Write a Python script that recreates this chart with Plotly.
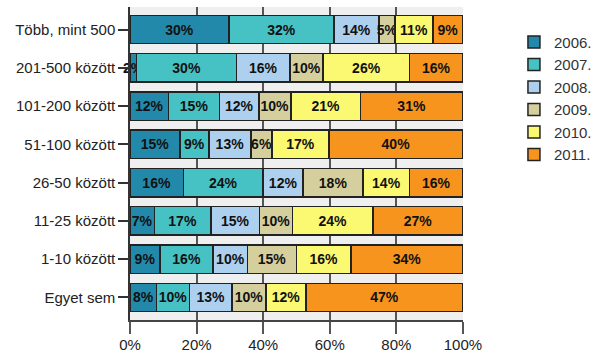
import plotly.graph_objects as go

categories = ["Több, mint 500", "201-500 között", "101-200 között", "51-100 között",
              "26-50 között", "11-25 között", "1-10 között", "Egyet sem"]
years = ["2006.", "2007.", "2008.", "2009.", "2010.", "2011."]

v2006 = [29.7, 2.0, 11.6, 15.0, 16.0, 7.3, 9.0, 8.0]
v2007 = [31.6, 30.0, 15.3, 8.7, 24.0, 17.0, 16.0, 9.8]
v2008 = [13.5, 16.0, 11.8, 12.6, 12.0, 14.6, 10.3, 12.9]
v2009 = [4.8, 10.0, 9.6, 6.4, 18.0, 9.9, 14.7, 10.1]
v2010 = [11.4, 26.0, 21.0, 17.0, 14.0, 24.2, 16.4, 12.1]
v2011 = [9.0, 16.0, 30.6, 40.3, 16.0, 27.0, 33.6, 47.1]
series = [v2006, v2007, v2008, v2009, v2010, v2011]

colors = ["#2389AA", "#46C1C4", "#AED0EF", "#D5CF9D", "#FBF871", "#F7941E"]

fig = go.Figure()
for name, vals, col in zip(years, series, colors):
    fig.add_trace(go.Bar(
        y=categories, x=vals, name=name, orientation="h",
        marker=dict(color=col, line=dict(color="#222222", width=1.5)),
        text=[f"{round(v):d}%" for v in vals],
        textposition="inside", insidetextanchor="middle", textangle=0,
        textfont=dict(family="Liberation Sans, Arial, sans-serif", size=14,
                      color="#111111", weight="bold"),
        constraintext="none", cliponaxis=False,
    ))

fig.update_layout(
    barmode="stack", bargap=0.26,
    width=597, height=364,
    margin=dict(l=130, r=134, t=7, b=44, autoexpand=False),
    paper_bgcolor="white", plot_bgcolor="#EFEFEF",
    font=dict(family="Liberation Sans, Arial, sans-serif", size=15, color="#222222"),
    uniformtext=dict(minsize=14, mode="show"),
    showlegend=True,
    legend=dict(x=1.153, y=0.94, xanchor="left", yanchor="top",
                font=dict(size=15, color="#333333"), traceorder="normal",
                itemwidth=30, borderwidth=0),
    xaxis=dict(range=[0, 100.02], tickvals=[0, 20, 40, 60, 80, 100],
               ticktext=["0%", "20%", "40%", "60%", "80%", "100%"],
               showgrid=True, gridcolor="#555555", gridwidth=1.5,
               showline=True, linecolor="#444444", linewidth=1.5,
               ticks="outside", ticklen=12, tickwidth=1.5, tickcolor="#555555",
               ticklabelstandoff=-2,
               zeroline=False, fixedrange=True, automargin=False),
    yaxis=dict(autorange=False, range=[7.5 + 0.09, -0.5 - 0.09],
               showline=True, linecolor="#333333", linewidth=1.5,
               ticks="outside", ticklen=10, tickwidth=1.5, tickcolor="#333333",
               showgrid=False, fixedrange=True, automargin=False),
)

fig.write_html("out.html", config={"displayModeBar": False},
               post_script="document.body.style.margin='0';")
